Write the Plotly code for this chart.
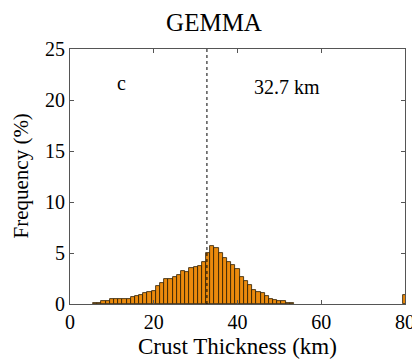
import plotly.graph_objects as go

thickness_km = list(range(6, 54)) + [80]
frequency_pct = [0.07, 0.13, 0.26, 0.33, 0.46, 0.46, 0.46, 0.46, 0.5, 0.72,
                 0.8, 0.88, 1.05, 1.2, 1.27, 1.76, 2.1, 2.5, 2.5, 2.6,
                 2.85, 3.2, 3.1, 3.5, 3.6, 3.7, 4.15, 5.0, 5.7, 5.45,
                 5.0, 4.55, 4.1, 3.8, 3.45, 2.6, 2.3, 1.85, 1.4, 1.2,
                 1.05, 0.8, 0.5, 0.4, 0.3, 0.25, 0.1, 0.08, 0.9]
mean_km = 32.7
x_ticks = [0, 20, 40, 60, 80]
y_ticks = [0, 5, 10, 15, 20, 25]

font = "Liberation Serif"

fig = go.Figure()
fig.add_trace(go.Bar(
    x=thickness_km, y=frequency_pct, width=1,
    marker=dict(color="#EB8A0C", line=dict(color="#2a1a00", width=0.8)),
))
fig.add_shape(type="line", x0=mean_km, x1=mean_km, y0=0, y1=25,
              xref="x", yref="y", line=dict(color="black", width=1, dash="dot"))
fig.add_annotation(x=12.4, y=21.7, text="c", showarrow=False,
                   font=dict(family=font, size=20, color="black"))
fig.add_annotation(x=51.8, y=21.3, text="32.7 km", showarrow=False,
                   font=dict(family=font, size=20, color="black"))
fig.add_annotation(xref="paper", yref="paper", x=0, y=0.5, xshift=-50,
                   text="Frequency (%)", textangle=-90, showarrow=False,
                   xanchor="center", yanchor="middle",
                   font=dict(family=font, size=21, color="black"))
fig.add_annotation(xref="paper", yref="paper", x=0.5, y=0, yshift=-42,
                   text="Crust Thickness (km)", showarrow=False,
                   xanchor="center", yanchor="middle",
                   font=dict(family=font, size=23, color="black"))

fig.update_layout(
    width=412, height=354,
    margin=dict(l=62, r=15, t=41, b=58, autoexpand=False),
    paper_bgcolor="white", plot_bgcolor="white",
    showlegend=False, bargap=0,
    title=dict(text="GEMMA", x=0.5, xanchor="center", y=0.96, yanchor="middle",
               font=dict(family=font, size=25, color="black")),
    font=dict(family=font, color="black"),
)
fig.update_xaxes(
    range=[0, 80], tickvals=x_ticks, ticks="inside", ticklen=4,
    tickcolor="#555", showline=True, linecolor="#555", linewidth=1, mirror="ticks",
    showgrid=False, zeroline=False, automargin=False,
    tickfont=dict(family=font, size=20, color="black"),
)
fig.update_yaxes(
    range=[0, 25], tickvals=y_ticks, ticks="inside", ticklen=4,
    tickcolor="#555", showline=True, linecolor="#555", linewidth=1, mirror="ticks",
    showgrid=False, zeroline=False, automargin=False,
    tickfont=dict(family=font, size=20, color="black"),
)

fig.write_html("out.html")
